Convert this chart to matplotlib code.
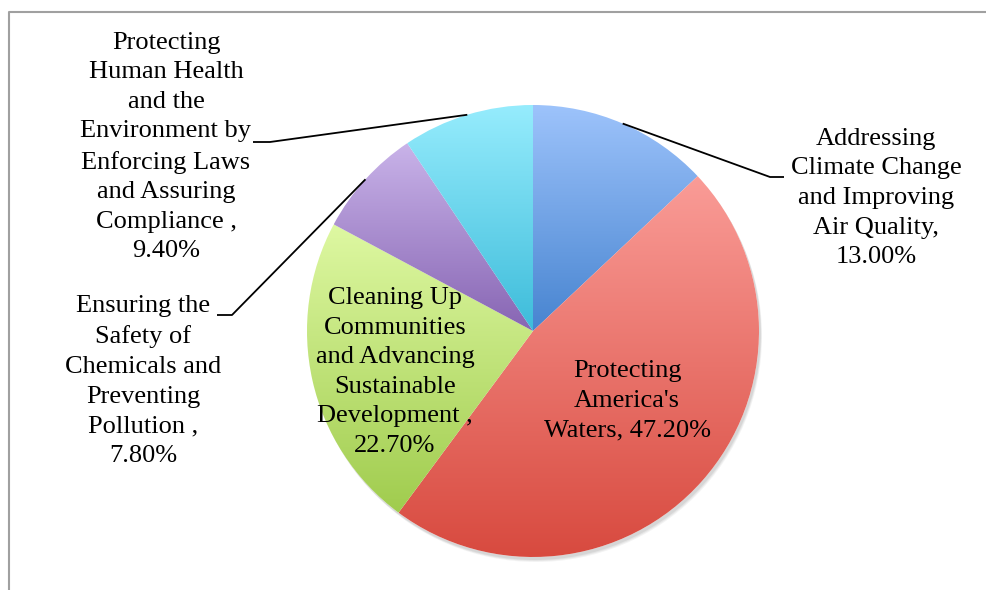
import numpy as np
import matplotlib
matplotlib.use('Agg')
import matplotlib.pyplot as plt
from matplotlib.colors import to_rgba
from matplotlib.patches import Circle

# EPA budget share by strategic goal
goals = [
    "Addressing\nClimate Change\nand Improving\nAir Quality,",
    "Protecting\nAmerica's\nWaters,",
    "Cleaning Up\nCommunities\nand Advancing\nSustainable\nDevelopment ,",
    "Ensuring the\nSafety of\nChemicals and\nPreventing\nPollution ,",
    "Protecting\nHuman Health\nand the\nEnvironment by\nEnforcing Laws\nand Assuring\nCompliance ,",
]
shares = [13.0, 47.2, 22.7, 7.8, 9.4]

top_colors = ['#9dc3fb', '#fa9c97', '#def8a2', '#c9b3e9', '#96ecfd']
bottom_colors = ['#4784d0', '#d84a3f', '#a0cc4e', '#8765b3', '#3dbcda']

W, H = 986, 590
fig = plt.figure(figsize=(W / 100, H / 100), dpi=100)
ax = fig.add_axes([0, 0, 1, 1])

cx, cy, r = 533, H - 331, 226

wedges, _ = ax.pie(shares, startangle=90, counterclock=False,
                   center=(cx, cy), radius=r, frame=True)
ax.set_xlim(0, W)
ax.set_ylim(0, H)
ax.set_aspect('equal')
ax.axis('off')

# soft drop shadow under the pie
for k, a in [(5, 0.08), (4, 0.10), (3, 0.12)]:
    ax.add_patch(Circle((cx + k * 0.6, cy - k), r, color='#707070', alpha=a,
                        lw=0, zorder=0))
ax.add_patch(Circle((cx, cy), r, color='white', lw=0, zorder=0.5))

# vertical gradient fill, one per slice, clipped to the wedge
for w, c_top, c_bot in zip(wedges, top_colors, bottom_colors):
    w.set_facecolor('none')
    w.set_edgecolor('none')
    ext = w.get_path().get_extents(w.get_patch_transform())
    t = np.linspace(0, 1, 256)[:, None]
    grad = (1 - t) * np.array(to_rgba(c_bot)) + t * np.array(to_rgba(c_top))
    im = ax.imshow(grad[:, None, :], extent=(ext.x0, ext.x1, ext.y0, ext.y1),
                   origin='lower', aspect='auto', zorder=1, interpolation='bilinear')
    im.set_clip_path(w)
ax.set_xlim(0, W)
ax.set_ylim(0, H)

font = dict(family='Liberation Serif', fontsize=19, ha='center', va='center',
            multialignment='center', linespacing=1.45, zorder=3)


def label(i):
    return f"{goals[i]}\n{shares[i]:.2f}%" if i != 1 else f"{goals[i]} {shares[i]:.2f}%"


# label centres (pixels from top-left)
ax.text(876, H - 198, label(0), **font)
ax.text(627, H - 401, label(1), **font)
ax.text(395, H - 372, label(2), **font)
ax.text(143, H - 381, label(3), **font)
ax.text(166, H - 147, label(4), **font)

# leader lines from slice midpoints to the outside labels
cum = np.cumsum([0] + shares[:-1])
mids = (cum + np.array(shares) / 2) / sum(shares) * 2 * np.pi


def edge(i):
    a = mids[i]
    return cx + r * np.sin(a), cy + r * np.cos(a)


elbows = {0: [(770, 177), (784, 177)],
          3: [(232, 315), (217, 315)],
          4: [(270, 142), (253, 142)]}
for i, pts in elbows.items():
    x0, y0 = edge(i)
    xs = [x0] + [p[0] for p in pts]
    ys = [y0] + [H - p[1] for p in pts]
    ax.plot(xs, ys, color='black', lw=1.3, zorder=2, solid_capstyle='butt')

# chart-area border (top and left edges)
ax.plot([9, 9, W], [0, H - 12, H - 12], color='#a0a0a0', lw=1.5, zorder=4)

fig.savefig('out.png', dpi=100, facecolor='white')
